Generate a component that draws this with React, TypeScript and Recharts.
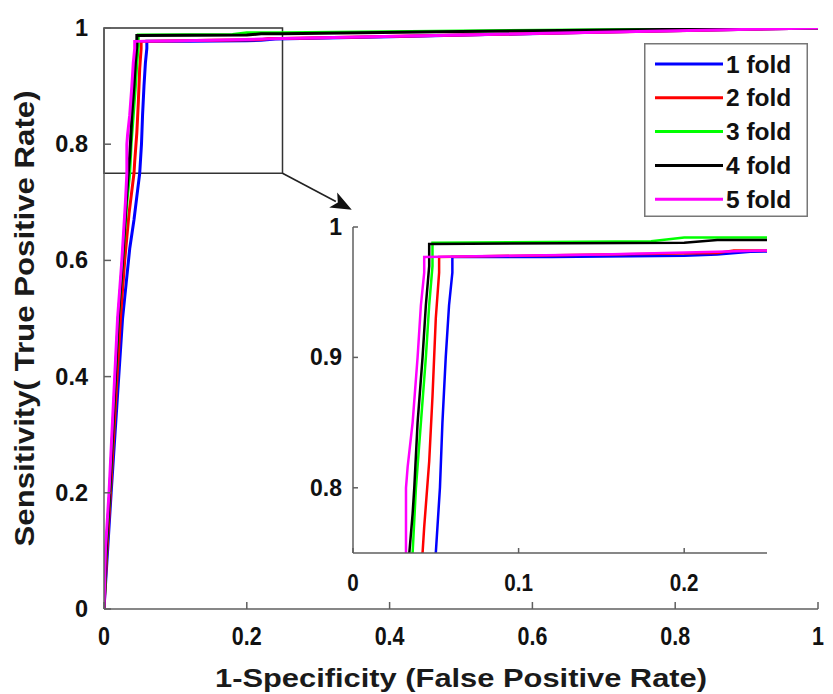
import React from 'react';
import { LineChart, Line, XAxis, YAxis, Legend, ReferenceArea, ReferenceLine } from 'recharts';

// ---------- data ----------
const foldNames = ['1 fold', '2 fold', '3 fold', '4 fold', '5 fold'];
const foldColors = ['#0000FF', '#FF0000', '#00FF00', '#000000', '#FF00FF'];

const fold1FPR = [0, 0.004, 0.010, 0.018, 0.026, 0.031, 0.036, 0.042, 0.047, 0.050, 0.0525, 0.054, 0.056, 0.058, 0.060, 0.060, 0.12, 0.20, 0.22, 0.24, 0.40, 0.70, 1];
const fold1TPR = [0, 0.08, 0.20, 0.35, 0.50, 0.56, 0.62, 0.67, 0.72, 0.75, 0.80, 0.85, 0.90, 0.94, 0.965, 0.977, 0.977, 0.978, 0.979, 0.981, 0.985, 0.993, 1];

const fold2FPR = [0, 0.004, 0.009, 0.016, 0.023, 0.029, 0.035, 0.040, 0.042, 0.043, 0.046, 0.048, 0.049, 0.050, 0.052, 0.052, 0.15, 0.22, 0.23, 0.25, 0.50, 1];
const fold2TPR = [0, 0.10, 0.20, 0.35, 0.50, 0.60, 0.68, 0.73, 0.75, 0.77, 0.82, 0.87, 0.90, 0.93, 0.965, 0.977, 0.979, 0.980, 0.982, 0.982, 0.988, 1];

const fold3FPR = [0, 0.003, 0.008, 0.014, 0.020, 0.026, 0.032, 0.036, 0.038, 0.041, 0.044, 0.046, 0.048, 0.048, 0.18, 0.20, 0.25, 0.50, 1];
const fold3TPR = [0, 0.10, 0.20, 0.35, 0.50, 0.60, 0.70, 0.75, 0.80, 0.85, 0.90, 0.94, 0.97, 0.988, 0.989, 0.992, 0.992, 0.995, 1];

const fold4FPR = [0, 0.003, 0.008, 0.014, 0.020, 0.026, 0.031, 0.034, 0.036, 0.037, 0.039, 0.042, 0.044, 0.046, 0.046, 0.20, 0.22, 0.25, 0.50, 1];
const fold4TPR = [0, 0.10, 0.20, 0.35, 0.50, 0.60, 0.70, 0.75, 0.78, 0.80, 0.85, 0.90, 0.94, 0.97, 0.987, 0.988, 0.990, 0.990, 0.994, 1];

const fold5FPR = [0, 0.002, 0.007, 0.013, 0.019, 0.025, 0.030, 0.032, 0.032, 0.033, 0.036, 0.039, 0.041, 0.043, 0.043, 0.15, 0.22, 0.25, 0.50, 1];
const fold5TPR = [0, 0.10, 0.20, 0.35, 0.50, 0.60, 0.70, 0.75, 0.80, 0.816, 0.85, 0.90, 0.94, 0.965, 0.977, 0.979, 0.981, 0.982, 0.988, 1];

const mainTicks = [0, 0.2, 0.4, 0.6, 0.8, 1];
const mainTickLabels = ['0', '0.2', '0.4', '0.6', '0.8', '1'];
const insetXTicks = [0, 0.1, 0.2];
const insetXTickLabels = ['0', '0.1', '0.2'];
const insetYTicks = [0.8, 0.9, 1];
const insetYTickLabels = ['0.8', '0.9', '1'];

const zoomXRange = [0, 0.25];
const zoomYRange = [0.75, 1];
const arrowEnd = [0.347, 0.687];

const xTitle = '1-Specificity (False Positive Rate)';
const yTitle = 'Sensitivity( True Positive Rate)';

// ---------- helpers ----------
const allFPR = [fold1FPR, fold2FPR, fold3FPR, fold4FPR, fold5FPR];
const allTPR = [fold1TPR, fold2TPR, fold3TPR, fold4TPR, fold5TPR];
const series = foldNames.map((name, i) => ({
  name,
  color: foldColors[i],
  data: allFPR[i].map((x, j) => ({ x, y: allTPR[i][j] })),
}));

const AXIS = '#5f5f5f';
const FONT = '"Liberation Sans", Arial, sans-serif';

const fmt = (ticks: number[], labels: string[]) => (v: number) => {
  const i = ticks.findIndex((t) => Math.abs(t - v) < 1e-9);
  return i >= 0 ? labels[i] : String(v);
};

type TickOpts = {
  side: 'bottom' | 'left' | 'top' | 'right';
  len: number;
  off?: number;
  size?: number;
  sx?: number;
  format?: (v: number) => string;
};

const makeTick = (o: TickOpts) => (p: any) => {
  const { x, y, payload } = p;
  const v = payload.value;
  let line: any = null;
  if (o.side === 'bottom') line = <line x1={x} y1={y} x2={x} y2={y - o.len} stroke={AXIS} strokeWidth={1.5} />;
  if (o.side === 'top') line = <line x1={x} y1={y} x2={x} y2={y + o.len} stroke={AXIS} strokeWidth={1.5} />;
  if (o.side === 'left') line = <line x1={x} y1={y} x2={x + o.len} y2={y} stroke={AXIS} strokeWidth={1.5} />;
  if (o.side === 'right') line = <line x1={x} y1={y} x2={x - o.len} y2={y} stroke={AXIS} strokeWidth={1.5} />;
  let label: any = null;
  if (o.format) {
    if (o.side === 'bottom') {
      const ly = y + (o.off || 0);
      const sx = o.sx || 1;
      label = (
        <g transform={`translate(${x} ${ly}) scale(${sx} 1)`}>
          <text x={0} y={0} textAnchor="middle" dominantBaseline="central" fontSize={o.size} fontFamily={FONT} fontWeight="bold" fill="#111">
            {o.format(v)}
          </text>
        </g>
      );
    } else if (o.side === 'left') {
      label = (
        <text x={x - (o.off || 0)} y={y} textAnchor="end" dominantBaseline="central" fontSize={o.size} fontFamily={FONT} fontWeight="bold" fill="#111">
          {o.format(v)}
        </text>
      );
    }
  }
  return (
    <g>
      {line}
      {label}
    </g>
  );
};

const ArrowShape = (p: any) => {
  const { x1, y1, x2, y2 } = p;
  const ang = Math.atan2(y2 - y1, x2 - x1);
  const L = 21;
  const W = 8.5;
  const bx = x2 - L * Math.cos(ang);
  const by = y2 - L * Math.sin(ang);
  const px = -Math.sin(ang) * W;
  const py = Math.cos(ang) * W;
  const pts = `${x2},${y2} ${bx + px},${by + py} ${bx + L * 0.25 * Math.cos(ang)},${by + L * 0.25 * Math.sin(ang)} ${bx - px},${by - py}`;
  return (
    <g>
      <line x1={x1} y1={y1} x2={bx + 3 * Math.cos(ang)} y2={by + 3 * Math.sin(ang)} stroke="#222" strokeWidth={1.6} />
      <polygon points={pts} fill="#111" />
    </g>
  );
};

const LegendBox = () => (
  <svg width={164} height={174} style={{ display: 'block' }}>
    <rect x={0.75} y={0.75} width={162.5} height={172.5} fill="#fff" stroke="#777" strokeWidth={1.5} />
    {series.map((s, i) => {
      const cy = 21 + i * 33.8;
      return (
        <g key={s.name}>
          <line x1={11} y1={cy} x2={79} y2={cy} stroke={s.color} strokeWidth={3} />
          <text x={82} y={cy} dominantBaseline="central" fontFamily={FONT} fontWeight="bold" fontSize={24.5} fill="#111">
            {s.name}
          </text>
        </g>
      );
    })}
  </svg>
);

export default function App() {
  const mainFmt = fmt(mainTicks, mainTickLabels);
  return (
    <div style={{ position: 'fixed', left: 0, top: 0, width: 833, height: 694, background: '#fff', overflow: 'hidden' }}>
      <LineChart width={833} height={694} margin={{ top: 28, right: 15, left: 0, bottom: 0 }}>
        <XAxis
          dataKey="x"
          type="number"
          domain={[0, 1]}
          ticks={mainTicks}
          interval={0}
          height={85}
          tickSize={0}
          tickMargin={0}
          stroke={AXIS}
          strokeWidth={1.5}
          allowDataOverflow
          tick={makeTick({ side: 'bottom', len: 7, off: 27, size: 25, sx: 0.86, format: mainFmt })}
          label={(props: any) => {
            const vb = props.viewBox;
            return (
              <text x={vb.x + vb.width / 2} y={vb.y + 78} textAnchor="middle" fontFamily={FONT} fontWeight="bold" fontSize={26} textLength={492} lengthAdjust="spacingAndGlyphs" fill="#1a1a1a">
                {xTitle}
              </text>
            );
          }}
        />
        <XAxis xAxisId="top" orientation="top" dataKey="x" type="number" domain={[0, 1]} ticks={mainTicks} interval={0} height={0} tickSize={0} tickMargin={0} stroke={AXIS} strokeWidth={1.5} tick={makeTick({ side: 'top', len: 7 })} />
        <YAxis
          type="number"
          domain={[0, 1]}
          ticks={mainTicks}
          interval={0}
          width={104}
          tickSize={0}
          tickMargin={0}
          stroke={AXIS}
          strokeWidth={1.5}
          allowDataOverflow
          tick={makeTick({ side: 'left', len: 7, off: 16, size: 23.5, format: mainFmt })}
          label={(props: any) => {
            const vb = props.viewBox;
            const cx = 25;
            const cy = vb.y + vb.height / 2;
            return (
              <text x={cx} y={cy} transform={`rotate(-90 ${cx} ${cy})`} textAnchor="middle" dominantBaseline="central" fontFamily={FONT} fontWeight="bold" fontSize={27} textLength={456} lengthAdjust="spacingAndGlyphs" fill="#1a1a1a">
                {yTitle}
              </text>
            );
          }}
        />
        <YAxis yAxisId="right" orientation="right" type="number" domain={[0, 1]} ticks={mainTicks} interval={0} width={0} tickSize={0} tickMargin={0} stroke={AXIS} strokeWidth={1.5} tick={makeTick({ side: 'right', len: 7 })} />
        <ReferenceArea x1={zoomXRange[0]} x2={zoomXRange[1]} y1={zoomYRange[0]} y2={zoomYRange[1]} fill="none" fillOpacity={0} stroke="#333" strokeWidth={1.5} />
        <ReferenceLine
          segment={[
            { x: zoomXRange[1], y: zoomYRange[0] },
            { x: arrowEnd[0], y: arrowEnd[1] },
          ]}
          ifOverflow="visible"
          shape={ArrowShape}
        />
        {series.map((s) => (
          <Line key={s.name} data={s.data} dataKey="y" name={s.name} stroke={s.color} strokeWidth={3} dot={false} activeDot={false} isAnimationActive={false} type="linear" />
        ))}
        <Legend layout="vertical" align="center" verticalAlign="middle" wrapperStyle={{ left: 644, top: 43, width: 164, height: 174 }} content={LegendBox} />
      </LineChart>

      <div style={{ position: 'absolute', left: 290, top: 197 }}>
        <LineChart width={482} height={420} margin={{ top: 30, right: 5, left: 0, bottom: 0 }}>
          <XAxis
            dataKey="x"
            type="number"
            domain={zoomXRange}
            ticks={insetXTicks}
            interval={0}
            height={64}
            tickSize={0}
            tickMargin={0}
            stroke={AXIS}
            strokeWidth={1.5}
            allowDataOverflow
            tick={makeTick({ side: 'bottom', len: 5, off: 30, size: 24, sx: 0.86, format: fmt(insetXTicks, insetXTickLabels) })}
          />
          <XAxis xAxisId="top" orientation="top" dataKey="x" type="number" domain={zoomXRange} ticks={insetXTicks} interval={0} height={0} tickSize={0} tickMargin={0} stroke={AXIS} strokeWidth={1.5} allowDataOverflow tick={makeTick({ side: 'top', len: 5 })} />
          <YAxis
            type="number"
            domain={zoomYRange}
            ticks={insetYTicks}
            interval={0}
            width={63}
            tickSize={0}
            tickMargin={0}
            stroke={AXIS}
            strokeWidth={1.5}
            allowDataOverflow
            tick={makeTick({ side: 'left', len: 5, off: 11, size: 23, format: fmt(insetYTicks, insetYTickLabels) })}
          />
          <YAxis yAxisId="right" orientation="right" type="number" domain={zoomYRange} ticks={insetYTicks} interval={0} width={0} tickSize={0} tickMargin={0} stroke={AXIS} strokeWidth={1.5} allowDataOverflow tick={makeTick({ side: 'right', len: 5 })} />
          {series.map((s) => (
            <Line key={s.name} data={s.data} dataKey="y" name={s.name} stroke={s.color} strokeWidth={2.5} dot={false} activeDot={false} isAnimationActive={false} type="linear" />
          ))}
        </LineChart>
      </div>
    </div>
  );
}
